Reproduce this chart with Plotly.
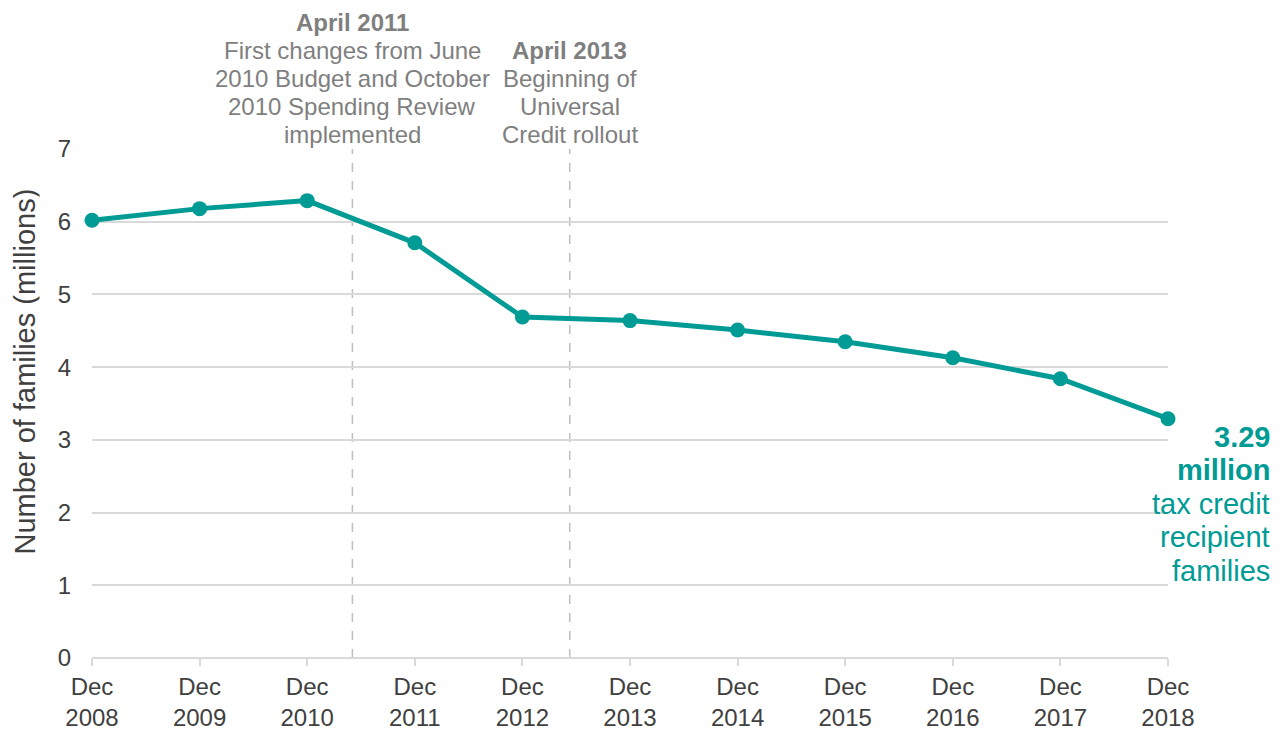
import plotly.graph_objects as go

years = ["2008", "2009", "2010", "2011", "2012", "2013", "2014", "2015", "2016", "2017", "2018"]
tick_labels = ["Dec<br>" + y for y in years]
families_m = [6.02, 6.18, 6.29, 5.71, 4.69, 4.64, 4.51, 4.35, 4.13, 3.84, 3.29]
x_idx = list(range(len(years)))

event_pos = [2.42, 4.44]
event_lines = [
    ["<b>April 2011</b>", "First changes from June", "2010 Budget and October",
     "2010 Spending Review", "implemented"],
    ["<b>April 2013</b>", "Beginning of", "Universal", "Credit rollout"],
]
end_label_lines = ["<b>%.2f</b>" % families_m[-1], "<b>million</b>", "tax credit",
                   "recipient", "families"]
y_title = "Number of families (millions)"

TEAL = "#009b95"
GREY = "#7f7f7f"
DARK = "#404040"
FONT = "Liberation Sans, Arial, sans-serif"

fig = go.Figure()
fig.add_trace(go.Scatter(
    x=x_idx, y=families_m, mode="lines+markers",
    line=dict(color=TEAL, width=5),
    marker=dict(color=TEAL, size=15),
    cliponaxis=False, hoverinfo="y", showlegend=False,
))

for xp in event_pos:
    fig.add_shape(type="line", xref="x", yref="y", x0=xp, x1=xp, y0=0, y1=7,
                  line=dict(color="#bfbfbf", width=1.5, dash="dash"), layer="below")

# event annotation lines: the block's last line sits just above the plot top
LINE_H = 28
for xp, lines in zip(event_pos, event_lines):
    n = len(lines)
    for i, txt in enumerate(lines):
        fig.add_annotation(x=xp, xref="x", y=1.0, yref="paper",
                           yshift=15 + (n - 1 - i) * LINE_H,
                           text=txt, showarrow=False, xanchor="center", yanchor="middle",
                           font=dict(family=FONT, size=24, color=GREY))

# end label beside last point
END_H = 33.5
for i, txt in enumerate(end_label_lines):
    fig.add_annotation(x=1.0, xref="paper", xshift=104, y=families_m[-1], yref="y",
                       yshift=-(18 + i * END_H), text=txt, showarrow=False,
                       xanchor="right", yanchor="middle",
                       font=dict(family=FONT, size=29, color=TEAL))

# y-axis title
fig.add_annotation(x=0, xref="paper", xshift=-68, y=0.5, yref="paper", yshift=32,
                   text=y_title, textangle=-90, showarrow=False, height=30,
                   xanchor="center", yanchor="middle",
                   font=dict(family=FONT, size=29, color=DARK))

fig.update_layout(
    width=1277, height=723,
    margin=dict(l=84, r=117, t=141, b=73, autoexpand=False),
    plot_bgcolor="white", paper_bgcolor="white",
    font=dict(family=FONT, color=DARK),
    xaxis=dict(range=[0, 10], tickmode="array", tickvals=x_idx, ticktext=tick_labels,
               showgrid=False, zeroline=False, showline=False, automargin=False,
               ticks="outside", ticklen=7, tickcolor="#d9d9d9", tickwidth=1.5,
               tickfont=dict(size=24, color=DARK, family=FONT)),
    yaxis=dict(range=[0, 7], dtick=1, showgrid=True, gridcolor="#d9d9d9", gridwidth=1.5,
               zeroline=True, zerolinecolor="#d9d9d9", zerolinewidth=1.5,
               automargin=False, ticks="", ticklabelstandoff=20,
               tickfont=dict(size=24, color=DARK, family=FONT)),
)

fig.write_html("out.html")
